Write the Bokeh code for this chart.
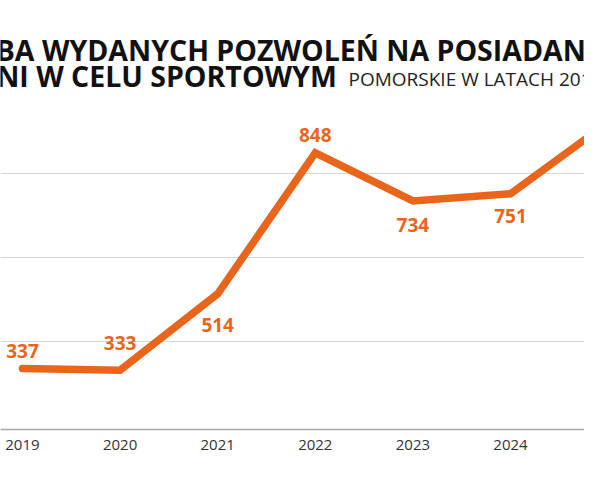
from bokeh.core.properties import value
from bokeh.embed import file_html
from bokeh.models import ColumnDataSource, FixedTicker, Label, Range1d
from bokeh.plotting import figure
from bokeh.resources import INLINE

# data
years = [2019, 2020, 2021, 2022, 2023, 2024, 2025]
permits = [337, 333, 514, 848, 734, 751, 920]
year_labels = ["2019", "2020", "2021", "2022", "2023", "2024", "2025"]
grid_levels = [400, 600, 800]

title_1 = "LICZBA WYDANYCH POZWOLEŃ NA POSIADANIE"
title_2 = "BRONI W CELU SPORTOWYM"
subtitle = "POMORSKIE W LATACH 2019-2025"
note_2025 = "do września"

ORANGE = "#e8651b"
FONT = "Open Sans"

W, H = 584, 464
BOTTOM = 35
FRAME_H = H - BOTTOM
X0, X1 = 2018.775, 2024.758
Y0, Y1 = 192.5, 1209.0


def cx(px):
    return X0 + px * (X1 - X0) / W


def cy(px):
    return Y1 - px * (Y1 - Y0) / FRAME_H


# label placement: pixels below (+) or above (-) each point
label_dy = [-18, -27, 31, -18, 24, 22, -14]
unit_per_px = (Y1 - Y0) / FRAME_H
label_y = [v - d * unit_per_px for v, d in zip(permits, label_dy)]

src = ColumnDataSource(data=dict(
    year=years,
    permits=permits,
    label=[str(v) for v in permits],
    label_y=label_y,
))

p = figure(width=W, height=H, x_range=Range1d(X0, X1), y_range=Range1d(Y0, Y1),
           output_backend="svg", toolbar_location=None, y_axis_location=None,
           min_border_left=0, min_border_right=0, min_border_top=0,
           min_border_bottom=BOTTOM)
p.outline_line_color = None
p.background_fill_color = "white"

p.xgrid.visible = False
p.ygrid.ticker = FixedTicker(ticks=grid_levels)
p.ygrid.grid_line_color = "#d6d6d6"
p.ygrid.grid_line_width = 1

ax = p.xaxis[0]
ax.ticker = FixedTicker(ticks=years)
ax.major_label_overrides = dict(zip(years, year_labels))
ax.major_label_text_font = FONT
ax.major_label_text_font_size = "15px"
ax.major_label_text_color = "#333333"
ax.major_label_standoff = 4
ax.axis_line_color = "#a8a8a8"
ax.axis_line_width = 1.5
ax.major_tick_line_color = None
ax.minor_tick_line_color = None

p.line("year", "permits", source=src, line_color=ORANGE, line_width=7.5,
       line_cap="round", line_join="miter")

p.text("year", "label_y", text="label", source=src,
       text_font=value(FONT), text_font_style="bold", text_font_size="19px",
       text_color=ORANGE, text_align="center", text_baseline="middle")

# 2025 is past the right edge, its tick label and note are drawn by hand
p.add_layout(Label(x=2025, y=cy(442), text="2025", text_font=FONT,
                   text_font_size="15px", text_color="#333333",
                   text_align="center", text_baseline="middle"))
p.add_layout(Label(x=2025, y=cy(456), text=note_2025, text_font=FONT,
                   text_font_size="12px", text_color="#333333",
                   text_align="center", text_baseline="middle"))

# title, cut off at the left like in the picture
for txt, mid in [(title_1, 49), (title_2, 75)]:
    p.add_layout(Label(x=cx(-65), y=cy(mid), text=txt, text_font=FONT,
                       text_font_size="28.5px", text_font_style="bold",
                       text_color="#111111", text_baseline="middle"))
p.add_layout(Label(x=cx(348), y=cy(78.5), text=subtitle, text_font=FONT,
                   text_font_size="19px", text_color="#222222",
                   text_baseline="middle"))

open("out.html", "w").write(file_html(p, INLINE))
